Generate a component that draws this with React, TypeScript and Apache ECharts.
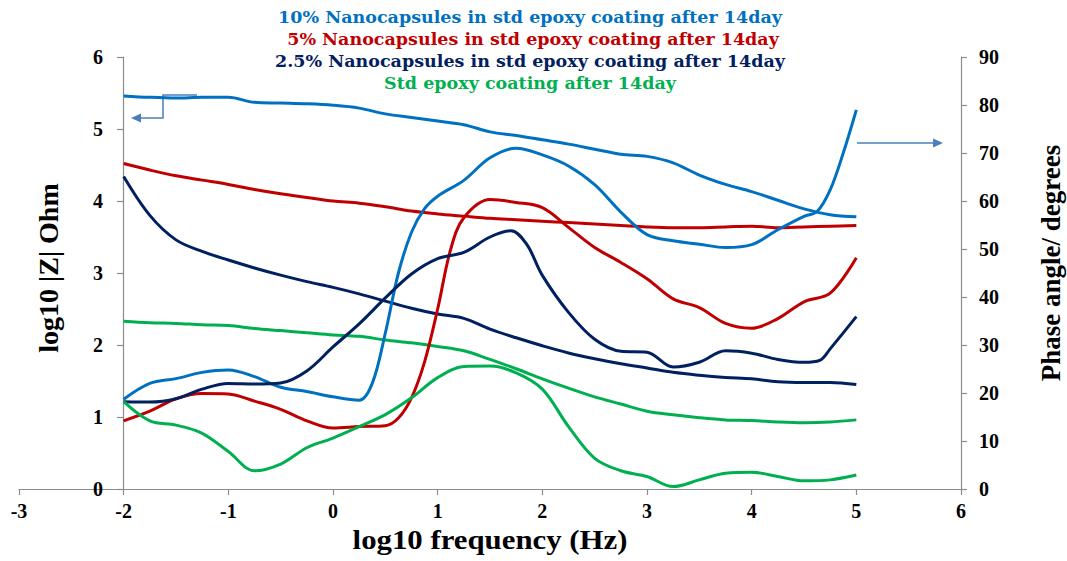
import React, { useEffect, useRef } from "react";
import * as echarts from "echarts";

// Frequency grid (log10 Hz) for the impedance modulus curves
const zFreq = [-2, -1.75, -1.5, -1.25, -1, -0.75, -0.5, -0.25, 0, 0.25, 0.5, 0.75, 1, 1.25, 1.5, 1.75, 2, 2.25, 2.5, 2.75, 3, 3.25, 3.5, 3.75, 4, 4.25, 4.5, 4.75, 5];

// log10 |Z| (Ohm)
const z10 = [5.46, 5.44, 5.43, 5.44, 5.44, 5.37, 5.36, 5.35, 5.33, 5.29, 5.21, 5.16, 5.11, 5.06, 4.96, 4.91, 4.85, 4.79, 4.72, 4.65, 4.62, 4.53, 4.36, 4.23, 4.13, 4.01, 3.89, 3.81, 3.78];
const z5 = [4.52, 4.43, 4.35, 4.29, 4.23, 4.16, 4.1, 4.05, 4.0, 3.97, 3.92, 3.86, 3.82, 3.79, 3.76, 3.74, 3.72, 3.7, 3.68, 3.66, 3.64, 3.63, 3.63, 3.64, 3.65, 3.63, 3.64, 3.65, 3.66];
const z25 = [4.34, 3.8, 3.46, 3.3, 3.18, 3.07, 2.97, 2.88, 2.8, 2.71, 2.61, 2.51, 2.43, 2.37, 2.22, 2.1, 1.99, 1.89, 1.81, 1.74, 1.68, 1.62, 1.58, 1.55, 1.53, 1.49, 1.48, 1.48, 1.45];
const zStd = [2.33, 2.31, 2.3, 2.28, 2.27, 2.23, 2.2, 2.17, 2.14, 2.12, 2.07, 2.03, 1.98, 1.92, 1.8, 1.67, 1.53, 1.4, 1.28, 1.18, 1.08, 1.03, 0.99, 0.96, 0.95, 0.93, 0.92, 0.93, 0.96];

// Phase angle (degrees)
const p10Freq = [-2, -1.75, -1.5, -1.25, -1, -0.75, -0.5, -0.25, 0, 0.25, 0.375, 0.5, 0.625, 0.75, 0.875, 1, 1.25, 1.5, 1.75, 2, 2.25, 2.5, 2.75, 3, 3.25, 3.5, 3.75, 4, 4.25, 4.5, 4.625, 4.75, 4.875, 5];
const p10 = [18.7, 22.0, 23.0, 24.3, 24.8, 23.4, 21.2, 20.3, 19.2, 18.5, 22.0, 32.5, 45.0, 53.5, 58.4, 61.0, 64.3, 69.0, 71.0, 69.6, 67.3, 63.4, 57.7, 53.0, 51.7, 51.0, 50.3, 50.9, 54.0, 56.8, 57.8, 62.3, 70.0, 79.0];

const p5Freq = [-2, -1.75, -1.5, -1.25, -1, -0.75, -0.5, -0.25, 0, 0.25, 0.5, 0.625, 0.75, 0.875, 1, 1.125, 1.25, 1.5, 1.75, 2, 2.25, 2.5, 2.75, 3, 3.25, 3.5, 3.75, 4, 4.25, 4.5, 4.75, 5];
const p5 = [14.2, 16.2, 18.8, 19.9, 19.8, 18.3, 16.6, 14.2, 12.7, 13.0, 13.2, 14.8, 19.0, 26.5, 37.5, 50.0, 56.5, 60.3, 59.7, 58.6, 54.5, 50.3, 47.2, 43.8, 39.6, 37.8, 34.5, 33.5, 35.5, 39.0, 40.8, 48.2];

const p25Freq = [-2, -1.75, -1.5, -1.25, -1, -0.75, -0.5, -0.25, 0, 0.25, 0.5, 0.75, 1, 1.25, 1.5, 1.7, 1.85, 2, 2.25, 2.5, 2.75, 3, 3.25, 3.5, 3.75, 4, 4.25, 4.5, 4.65, 4.75, 5];
const p25 = [18.2, 18.1, 18.8, 20.8, 22.0, 21.9, 22.1, 24.6, 29.6, 34.4, 39.8, 44.8, 48.0, 49.3, 52.5, 53.8, 51.0, 44.5, 36.8, 31.2, 28.7, 28.5, 25.4, 26.4, 28.8, 28.3, 27.0, 26.4, 26.8, 29.2, 35.9];

const pStdFreq = [-2, -1.75, -1.5, -1.25, -1, -0.75, -0.5, -0.25, 0, 0.25, 0.5, 0.75, 1, 1.25, 1.5, 1.75, 2, 2.25, 2.5, 2.75, 3, 3.25, 3.5, 3.75, 4, 4.25, 4.5, 4.75, 5];
const pStd = [18.2, 14.2, 13.3, 11.6, 7.8, 3.8, 5.2, 8.6, 10.6, 13.0, 15.5, 19.0, 23.2, 25.5, 25.6, 24.2, 20.8, 13.0, 6.4, 3.8, 2.6, 0.5, 1.9, 3.3, 3.5, 2.6, 1.7, 1.9, 2.9];

const legendLines = [
  "10% Nanocapsules in std epoxy coating after 14day",
  " 5% Nanocapsules in std epoxy coating after 14day",
  "2.5% Nanocapsules in std epoxy coating after 14day",
  "Std epoxy coating after 14day",
];
const colors = ["#0070C0", "#C00000", "#002060", "#00B050"];

const xTitle = "log10 frequency (Hz)";
const yLeftTitle = "log10 |Z| Ohm";
const yRightTitle = "Phase angle/ degrees";

const pairs = (xs: number[], ys: number[]) => xs.map((x, i) => [x, ys[i]]);

export default function App() {
  const ref = useRef<HTMLDivElement>(null);

  useEffect(() => {
    if (!ref.current) return;
    const chart = echarts.init(ref.current, null, { renderer: "svg" });
    const axisFont = { fontFamily: "Liberation Serif", fontWeight: "bold" as const, fontSize: 20, color: "#000" };
    const axisLine = { show: true, onZero: false, lineStyle: { color: "#8c8c8c", width: 1.2 } };
    const axisTick = { show: true, length: 6, lineStyle: { color: "#8c8c8c", width: 1.2 } };
    const arrowColor = "#4a7ebb";

    const line = (name: string, data: number[][], color: string, yAxisIndex: number) => ({
      name,
      type: "line",
      data,
      yAxisIndex,
      smooth: 0.35,
      showSymbol: false,
      symbol: "none",
      lineStyle: { color, width: 3 },
      itemStyle: { color },
    });

    chart.setOption({
      animation: false,
      backgroundColor: "#fff",
      grid: { left: 19, right: 106, top: 57, bottom: 72, containLabel: false },
      xAxis: {
        type: "value",
        min: -3,
        max: 6,
        interval: 1,
        axisLine,
        axisTick,
        splitLine: { show: false },
        axisLabel: { ...axisFont, margin: 12 },
      },
      yAxis: [
        {
          type: "value",
          position: "left",
          offset: -104,
          min: 0,
          max: 6,
          interval: 1,
          axisLine,
          axisTick,
          splitLine: { show: false },
          axisLabel: { ...axisFont, margin: 20 },
        },
        {
          type: "value",
          position: "right",
          min: 0,
          max: 90,
          interval: 10,
          axisLine,
          axisTick,
          splitLine: { show: false },
          axisLabel: { ...axisFont, margin: 18 },
        },
      ],
      series: [
        line("|Z| 10%", pairs(zFreq, z10), colors[0], 0),
        line("|Z| 5%", pairs(zFreq, z5), colors[1], 0),
        line("|Z| 2.5%", pairs(zFreq, z25), colors[2], 0),
        line("|Z| Std", pairs(zFreq, zStd), colors[3], 0),
        line("Phase 10%", pairs(p10Freq, p10), colors[0], 1),
        line("Phase 5%", pairs(p5Freq, p5), colors[1], 1),
        line("Phase 2.5%", pairs(p25Freq, p25), colors[2], 1),
        line("Phase Std", pairs(pStdFreq, pStd), colors[3], 1),
      ],
      graphic: [
        ...legendLines.map((t, i) => ({
          type: "text",
          x: 530,
          y: 17 + i * 22,
          scaleX: 1.03,
          style: {
            text: t,
            font: "bold 17px 'DejaVu Serif'",
            fill: colors[i],
            align: "center",
            verticalAlign: "middle",
          },
        })),
        {
          type: "text",
          x: 490,
          y: 539,
          scaleX: 1.1,
          style: { text: xTitle, font: "bold 28px 'Liberation Serif'", fill: "#000", align: "center", verticalAlign: "middle" },
        },
        {
          type: "text",
          x: 48,
          y: 268,
          rotation: Math.PI / 2,
          style: { text: yLeftTitle, font: "bold 28px 'Liberation Serif'", fill: "#000", align: "center", verticalAlign: "middle" },
        },
        {
          type: "text",
          x: 1051,
          y: 263,
          rotation: Math.PI / 2,
          style: { text: yRightTitle, font: "bold 27px 'Liberation Serif'", fill: "#000", align: "center", verticalAlign: "middle" },
        },
        // callout pointing to the |Z| axis
        {
          type: "polyline",
          shape: { points: [[197, 95], [163, 95], [163, 118], [139, 118]] },
          style: { stroke: arrowColor, lineWidth: 1.5, fill: null },
        },
        {
          type: "polygon",
          shape: { points: [[131, 118], [141, 113.5], [141, 122.5]] },
          style: { fill: arrowColor },
        },
        // callout pointing to the phase axis
        {
          type: "line",
          shape: { x1: 857, y1: 143, x2: 934, y2: 143 },
          style: { stroke: arrowColor, lineWidth: 1.5 },
        },
        {
          type: "polygon",
          shape: { points: [[943, 143], [933, 138.5], [933, 147.5]] },
          style: { fill: arrowColor },
        },
      ],
    });
    return () => chart.dispose();
  }, []);

  return <div ref={ref} style={{ position: "fixed", left: 0, top: 0, width: 1067, height: 561 }} />;
}
